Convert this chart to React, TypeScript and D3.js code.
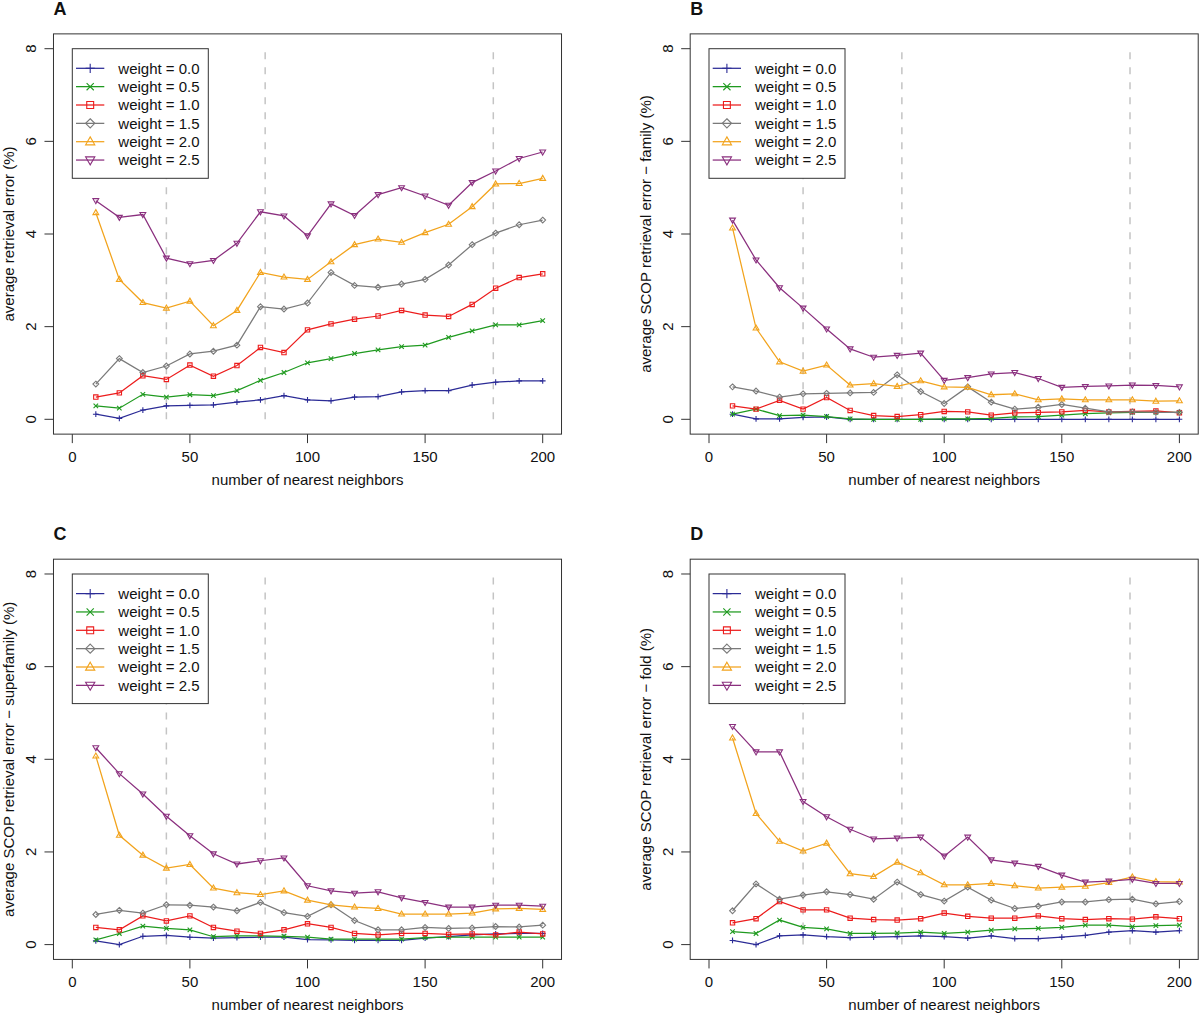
import React from "react";
import * as d3 from "d3";

// ---------- data ----------
const neighbors = [10, 20, 30, 40, 50, 60, 70, 80, 90, 100, 110, 120, 130, 140, 150, 160, 170, 180, 190, 200];
const weightLabels = ["weight = 0.0", "weight = 0.5", "weight = 1.0", "weight = 1.5", "weight = 2.0", "weight = 2.5"];
const seriesColors = ["#2b2b96", "#1f9a1f", "#ec1c1c", "#7a7a7a", "#f2a31c", "#8a2f7e"];
const seriesShapes = ["plus", "cross", "square", "diamond", "triUp", "triDown"];
const dashedAt = [40, 82, 179];
const xTicks = [0, 50, 100, 150, 200];
const yTicks = [0, 2, 4, 6, 8];
const panelLetters = ["A", "B", "C", "D"];
const panelYLabels = [
  "average retrieval error (%)",
  "average SCOP retrieval error \u2212 family (%)",
  "average SCOP retrieval error \u2212 superfamily (%)",
  "average SCOP retrieval error \u2212 fold (%)",
];
const xLabel = "number of nearest neighbors";

// Panel A
const aW00 = [0.11, 0.02, 0.2, 0.29, 0.3, 0.31, 0.37, 0.42, 0.51, 0.42, 0.4, 0.48, 0.49, 0.59, 0.62, 0.62, 0.74, 0.8, 0.83, 0.83];
const aW05 = [0.29, 0.24, 0.54, 0.48, 0.53, 0.51, 0.62, 0.84, 1.01, 1.22, 1.31, 1.42, 1.5, 1.57, 1.6, 1.77, 1.91, 2.04, 2.04, 2.13];
const aW10 = [0.48, 0.57, 0.94, 0.86, 1.17, 0.93, 1.16, 1.55, 1.44, 1.93, 2.06, 2.16, 2.23, 2.35, 2.25, 2.22, 2.48, 2.83, 3.06, 3.14];
const aW15 = [0.76, 1.31, 1.01, 1.15, 1.41, 1.47, 1.6, 2.43, 2.38, 2.51, 3.17, 2.89, 2.85, 2.92, 3.02, 3.33, 3.77, 4.02, 4.2, 4.3];
const aW20 = [4.46, 3.02, 2.52, 2.4, 2.55, 2.02, 2.35, 3.17, 3.07, 3.02, 3.4, 3.77, 3.89, 3.82, 4.03, 4.21, 4.59, 5.08, 5.09, 5.2];
const aW25 = [4.72, 4.36, 4.42, 3.48, 3.36, 3.43, 3.8, 4.48, 4.39, 3.96, 4.65, 4.4, 4.85, 5.0, 4.82, 4.62, 5.11, 5.36, 5.63, 5.77];

// Panel B (family)
const bW00 = [0.11, 0.01, 0.01, 0.04, 0.05, 0.0, 0.0, 0.0, 0.0, 0.0, 0.0, 0.0, 0.0, 0.0, 0.0, 0.0, 0.0, 0.0, 0.0, 0.0];
const bW05 = [0.11, 0.22, 0.08, 0.09, 0.06, 0.01, 0.0, 0.0, 0.0, 0.01, 0.01, 0.02, 0.05, 0.06, 0.09, 0.12, 0.14, 0.15, 0.15, 0.15];
const bW10 = [0.29, 0.22, 0.41, 0.22, 0.47, 0.19, 0.08, 0.06, 0.1, 0.17, 0.16, 0.09, 0.14, 0.15, 0.16, 0.19, 0.16, 0.17, 0.18, 0.14];
const bW15 = [0.7, 0.61, 0.48, 0.55, 0.56, 0.57, 0.58, 0.96, 0.6, 0.34, 0.7, 0.37, 0.22, 0.26, 0.32, 0.24, 0.16, 0.16, 0.15, 0.15];
const bW20 = [4.13, 1.97, 1.24, 1.04, 1.17, 0.74, 0.77, 0.71, 0.83, 0.7, 0.69, 0.53, 0.55, 0.42, 0.44, 0.42, 0.42, 0.42, 0.39, 0.4];
const bW25 = [4.3, 3.44, 2.84, 2.4, 1.95, 1.52, 1.34, 1.38, 1.43, 0.84, 0.9, 0.98, 1.01, 0.88, 0.69, 0.71, 0.72, 0.74, 0.73, 0.7];

// Panel C (superfamily)
const cW00 = [0.08, 0.0, 0.18, 0.2, 0.16, 0.14, 0.15, 0.16, 0.16, 0.11, 0.1, 0.09, 0.09, 0.09, 0.14, 0.17, 0.21, 0.23, 0.24, 0.24];
const cW05 = [0.1, 0.24, 0.4, 0.35, 0.32, 0.17, 0.19, 0.19, 0.18, 0.16, 0.12, 0.12, 0.12, 0.12, 0.15, 0.16, 0.16, 0.16, 0.16, 0.16];
const cW10 = [0.37, 0.32, 0.62, 0.51, 0.62, 0.37, 0.29, 0.24, 0.32, 0.45, 0.37, 0.24, 0.21, 0.24, 0.24, 0.22, 0.23, 0.21, 0.27, 0.23];
const cW15 = [0.65, 0.74, 0.68, 0.86, 0.85, 0.81, 0.73, 0.91, 0.69, 0.61, 0.86, 0.52, 0.32, 0.32, 0.37, 0.35, 0.36, 0.39, 0.38, 0.42];
const cW20 = [4.07, 2.36, 1.93, 1.65, 1.73, 1.22, 1.12, 1.08, 1.16, 0.96, 0.86, 0.81, 0.78, 0.66, 0.66, 0.66, 0.68, 0.77, 0.78, 0.76];
const cW25 = [4.25, 3.69, 3.25, 2.77, 2.35, 1.96, 1.74, 1.81, 1.87, 1.27, 1.16, 1.11, 1.14, 1.01, 0.91, 0.81, 0.81, 0.85, 0.85, 0.83];

// Panel D (fold)
const dW00 = [0.09, 0.0, 0.19, 0.21, 0.17, 0.15, 0.16, 0.17, 0.19, 0.17, 0.14, 0.19, 0.13, 0.13, 0.16, 0.2, 0.27, 0.3, 0.27, 0.3];
const dW05 = [0.28, 0.24, 0.53, 0.37, 0.34, 0.24, 0.24, 0.25, 0.27, 0.24, 0.27, 0.31, 0.34, 0.35, 0.37, 0.42, 0.42, 0.39, 0.41, 0.42];
const dW10 = [0.47, 0.56, 0.93, 0.75, 0.75, 0.57, 0.54, 0.53, 0.56, 0.68, 0.61, 0.57, 0.57, 0.62, 0.56, 0.54, 0.56, 0.55, 0.6, 0.56];
const dW15 = [0.73, 1.31, 0.98, 1.07, 1.14, 1.08, 0.98, 1.35, 1.08, 0.94, 1.24, 0.96, 0.78, 0.83, 0.92, 0.92, 0.97, 0.98, 0.88, 0.93];
const dW20 = [4.46, 2.83, 2.23, 2.02, 2.19, 1.53, 1.47, 1.78, 1.55, 1.29, 1.29, 1.32, 1.27, 1.22, 1.24, 1.26, 1.34, 1.46, 1.36, 1.35];
const dW25 = [4.71, 4.16, 4.16, 3.09, 2.76, 2.49, 2.28, 2.3, 2.32, 1.91, 2.32, 1.83, 1.76, 1.69, 1.5, 1.35, 1.37, 1.41, 1.32, 1.32];

const panelSeries = [
  [aW00, aW05, aW10, aW15, aW20, aW25],
  [bW00, bW05, bW10, bW15, bW20, bW25],
  [cW00, cW05, cW10, cW15, cW20, cW25],
  [dW00, dW05, dW10, dW15, dW20, dW25],
];

// ---------- layout ----------
const W = 1200;
const H = 1015;
const panelOffsets = [
  [0, 0],
  [636.7, 0],
  [0, 525.3],
  [636.7, 525.3],
];
const FONT = "'Liberation Sans', Arial, Helvetica, sans-serif";

function markerPath(shape: string, s: number): string {
  switch (shape) {
    case "plus":
      return `M${-s},0H${s}M0,${-s}V${s}`;
    case "cross": {
      const c = s * 0.78;
      return `M${-c},${-c}L${c},${c}M${-c},${c}L${c},${-c}`;
    }
    case "square": {
      const c = s * 0.75;
      return `M${-c},${-c}H${c}V${c}H${-c}Z`;
    }
    case "diamond":
      return `M0,${-s}L${s},0L0,${s}L${-s},0Z`;
    case "triUp":
      return `M0,${-s * 1.05}L${s},${s * 0.68}L${-s},${s * 0.68}Z`;
    case "triDown":
      return `M0,${s * 1.05}L${s},${-s * 0.68}L${-s},${-s * 0.68}Z`;
    default:
      return "";
  }
}

function Panel({ idx }: { idx: number }) {
  const [ox, oy] = panelOffsets[idx];
  const x = d3.scaleLinear().domain([0, 200]).range([72.3, 542.7]);
  const y = d3.scaleLinear().domain([0, 8]).range([419.3, 48.7]);
  const boxL = x(-8);
  const boxR = x(208);
  const boxT = y(8.32);
  const boxB = y(-0.32);
  const series = panelSeries[idx];
  const line = d3
    .line<number>()
    .x((_, i) => x(neighbors[i]))
    .y((v) => y(v));

  const legX = x(0);
  const legY = y(8);
  const rowH = 18.35;

  return (
    <g transform={`translate(${ox},${oy})`}>
      <text x={boxL} y={15} fontSize={18} fontWeight="bold" fontFamily={FONT} fill="#111">
        {panelLetters[idx]}
      </text>
      {dashedAt.map((d) => (
        <line
          key={d}
          x1={x(d)}
          x2={x(d)}
          y1={y(0)}
          y2={y(8)}
          stroke="#c4c4c4"
          strokeWidth={1.5}
          strokeDasharray="7,8"
        />
      ))}
      {series.map((vals, si) => (
        <g key={si}>
          <path d={line(vals) || ""} fill="none" stroke={seriesColors[si]} strokeWidth={1.25} />
          {vals.map((v, i) => (
            <path
              key={i}
              transform={`translate(${x(neighbors[i])},${y(v)})`}
              d={markerPath(seriesShapes[si], 2.9)}
              fill="none"
              stroke={seriesColors[si]}
              strokeWidth={1.1}
            />
          ))}
        </g>
      ))}
      <rect x={boxL} y={boxT} width={boxR - boxL} height={boxB - boxT} fill="none" stroke="#333" strokeWidth={1} />
      {xTicks.map((t) => (
        <g key={t}>
          <line x1={x(t)} x2={x(t)} y1={boxB} y2={boxB + 9} stroke="#333" strokeWidth={1} />
          <text x={x(t)} y={boxB + 28} textAnchor="middle" fontSize={15} fontFamily={FONT} fill="#111">
            {t}
          </text>
        </g>
      ))}
      <text x={(x(0) + x(200)) / 2} y={boxB + 51} textAnchor="middle" fontSize={15} fontFamily={FONT} fill="#111">
        {xLabel}
      </text>
      {yTicks.map((t) => (
        <g key={t}>
          <line x1={boxL - 9} x2={boxL} y1={y(t)} y2={y(t)} stroke="#333" strokeWidth={1} />
          <text
            transform={`translate(${boxL - 17},${y(t)}) rotate(-90)`}
            textAnchor="middle"
            fontSize={15}
            fontFamily={FONT}
            fill="#111"
          >
            {t}
          </text>
        </g>
      ))}
      <text
        transform={`translate(14,${(boxT + boxB) / 2}) rotate(-90)`}
        textAnchor="middle"
        fontSize={15}
        fontFamily={FONT}
        fill="#111"
      >
        {panelYLabels[idx]}
      </text>
      <rect x={legX} y={legY} width={136} height={129.6} fill="#fff" stroke="#333" strokeWidth={1} />
      {weightLabels.map((lab, si) => {
        const cy = legY + 19.6 + si * rowH;
        return (
          <g key={lab}>
            <line x1={legX + 3.7} x2={legX + 32} y1={cy} y2={cy} stroke={seriesColors[si]} strokeWidth={1.25} />
            <path
              transform={`translate(${legX + 17.9},${cy})`}
              d={markerPath(seriesShapes[si], 4.6)}
              fill="none"
              stroke={seriesColors[si]}
              strokeWidth={1.1}
            />
            <text x={legX + 46} y={cy + 5.3} fontSize={15} fontFamily={FONT} fill="#111">
              {lab}
            </text>
          </g>
        );
      })}
    </g>
  );
}

export default function App() {
  return (
    <svg
      width={W}
      height={H}
      viewBox={`0 0 ${W} ${H}`}
      style={{ position: "absolute", left: 0, top: 0, background: "#fff", display: "block" }}
    >
      <rect x={0} y={0} width={W} height={H} fill="#fff" />
      {[0, 1, 2, 3].map((i) => (
        <Panel key={i} idx={i} />
      ))}
    </svg>
  );
}
